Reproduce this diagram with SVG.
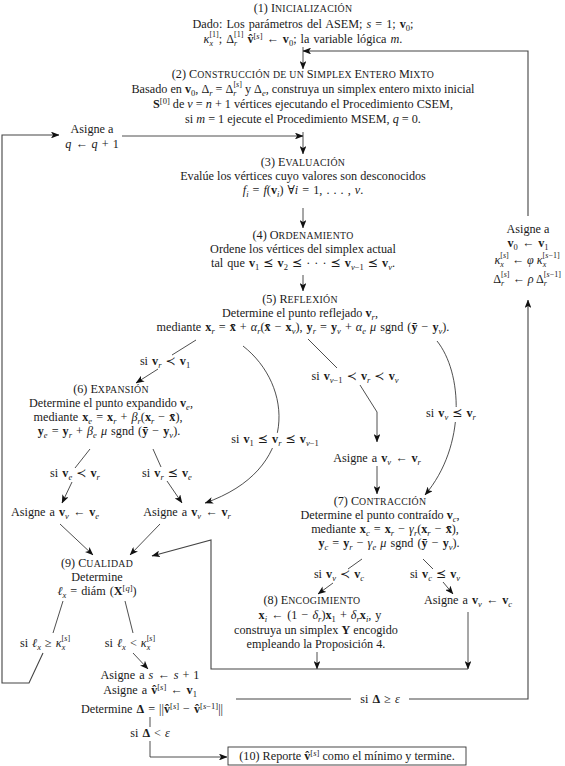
<svg xmlns="http://www.w3.org/2000/svg" width="565" height="766" viewBox="0 0 565 766">
<style>
.t{font-family:"Liberation Serif","DejaVu Serif","DejaVu Sans",serif;font-size:12.2px;fill:#1a1a1a;text-anchor:middle}
.m{word-spacing:1px}
.sm{font-size:9.8px;letter-spacing:0.3px}
.i{font-style:italic}
.b{font-weight:bold}
.sb{font-size:8.5px;baseline-shift:-2.5px}
.sp{font-size:8.5px;baseline-shift:4.5px}
.sb2{font-size:8px;baseline-shift:-3px}
.sp2{font-size:8px;baseline-shift:6px}
.ln{fill:none;stroke:#222;stroke-width:0.8}
.lp{fill:none;stroke:#444;stroke-width:1.1}
</style>
<defs>
<marker id="ah" viewBox="0 0 10 8" refX="9.5" refY="4" markerWidth="8.5" markerHeight="6.8" orient="auto" markerUnits="userSpaceOnUse"><path d="M0,0 L10,4 L0,8 L2.5,4 z" fill="#111"/></marker>
</defs>
<rect width="565" height="766" fill="#fff"/>
<g id="connectors">
<path class="lp" d="M528,216 V51 H303" marker-end="url(#ah)"/>
<path class="ln" d="M303,47 V69" marker-end="url(#ah)"/>
<path class="ln" d="M122,136 H303" marker-end="url(#ah)"/>
<path class="ln" d="M303,132 V154" marker-end="url(#ah)"/>
<path class="ln" d="M303,208 V228" marker-end="url(#ah)"/>
<path class="ln" d="M303,275 V291" marker-end="url(#ah)"/>
<path class="ln" d="M196,340 L172,355"/>
<path class="ln" d="M158,369 L136,383" marker-end="url(#ah)"/>
<path class="ln" d="M243,346 C293,385 300,470 205,503" marker-end="url(#ah)"/>
<path class="ln" d="M308,339 L337,368"/>
<path class="ln" d="M360,385 L377,412 V442" marker-end="url(#ah)"/>
<path class="ln" d="M437,341 C462,372 467,445 425,495" marker-end="url(#ah)"/>
<path class="ln" d="M377,466 V494" marker-end="url(#ah)"/>
<path class="ln" d="M90,449 L75,468"/>
<path class="ln" d="M72,482 L62,503" marker-end="url(#ah)"/>
<path class="ln" d="M153,449 L161,467"/>
<path class="ln" d="M167,481 L182,503" marker-end="url(#ah)"/>
<path class="ln" d="M60,524 L93,555" marker-end="url(#ah)"/>
<path class="ln" d="M160,524 L130,555" marker-end="url(#ah)"/>
<path class="ln" d="M362,559 L348,569"/>
<path class="ln" d="M333,583 L318,594" marker-end="url(#ah)"/>
<path class="ln" d="M423,559 L433,569"/>
<path class="ln" d="M443,582 L453,594" marker-end="url(#ah)"/>
<path class="ln" d="M317,652 V669" marker-end="url(#ah)"/>
<path class="ln" d="M468,612 V669" marker-end="url(#ah)"/>
<path class="lp" d="M468,669 H211 V540 L152,556" marker-end="url(#ah)"/>
<path class="ln" d="M63,601 L53,633"/>
<path class="ln" d="M125,601 L133,633"/>
<path class="lp" d="M43,653 L29,683 H2 V135 H59" marker-end="url(#ah)"/>
<path class="ln" d="M133,653 L148,669" marker-end="url(#ah)"/>
<path class="lp" d="M236,699 H528 V300" marker-end="url(#ah)"/>
<path class="ln" d="M150,717 V727"/>
<path class="ln" d="M150,741 V757 H227" marker-end="url(#ah)"/>
<rect x="224" y="433" width="102" height="15" fill="#fff"/>
<rect x="422" y="407" width="59" height="15" fill="#fff"/>
<rect x="351" y="692" width="58" height="14" fill="#fff"/>
<text class="t m" x="165" y="365">si <tspan class="b">v</tspan><tspan class="sb i">r</tspan> ≺ <tspan class="b">v</tspan><tspan class="sb">1</tspan></text>
<text class="t m" x="275" y="443">si <tspan class="b">v</tspan><tspan class="sb">1</tspan> ⪯ <tspan class="b">v</tspan><tspan class="sb i">r</tspan> ⪯ <tspan class="b">v</tspan><tspan class="sb"><tspan class="i">ν</tspan>−1</tspan></text>
<text class="t m" x="355" y="380">si <tspan class="b">v</tspan><tspan class="sb"><tspan class="i">ν</tspan>−1</tspan> ≺ <tspan class="b">v</tspan><tspan class="sb i">r</tspan> ≺ <tspan class="b">v</tspan><tspan class="sb i">ν</tspan></text>
<text class="t m" x="451" y="417">si <tspan class="b">v</tspan><tspan class="sb i">ν</tspan> ⪯ <tspan class="b">v</tspan><tspan class="sb i">r</tspan></text>
<text class="t m" x="75" y="477">si <tspan class="b">v</tspan><tspan class="sb i">e</tspan> ≺ <tspan class="b">v</tspan><tspan class="sb i">r</tspan></text>
<text class="t m" x="167" y="477">si <tspan class="b">v</tspan><tspan class="sb i">r</tspan> ⪯ <tspan class="b">v</tspan><tspan class="sb i">e</tspan></text>
<text class="t m" x="339" y="578">si <tspan class="b">v</tspan><tspan class="sb i">ν</tspan> ≺ <tspan class="b">v</tspan><tspan class="sb i">c</tspan></text>
<text class="t m" x="435" y="578">si <tspan class="b">v</tspan><tspan class="sb i">c</tspan> ⪯ <tspan class="b">v</tspan><tspan class="sb i">ν</tspan></text>
<text class="t m" x="45" y="647">si <tspan class="i">ℓ</tspan><tspan class="sb i">x</tspan> ≥ <tspan class="i">κ</tspan><tspan class="sb2 i">x</tspan><tspan class="sp2" dx="-3.6">[<tspan class="i">s</tspan>]</tspan></text>
<text class="t m" x="130" y="647">si <tspan class="i">ℓ</tspan><tspan class="sb i">x</tspan> &lt; <tspan class="i">κ</tspan><tspan class="sb2 i">x</tspan><tspan class="sp2" dx="-3.6">[<tspan class="i">s</tspan>]</tspan></text>
<text class="t m" x="150" y="737">si <tspan class="b">Δ</tspan> &lt; <tspan class="i">ε</tspan></text>
<text class="t m" x="380" y="703">si <tspan class="b">Δ</tspan> ≥ <tspan class="i">ε</tspan></text>
</g>
<g id="n1">
<text class="t" x="303" y="12">(1) I<tspan class="sm">NICIALIZACIÓN</tspan></text>
<text class="t m" x="303" y="28">Dado: Los parámetros del ASEM; <tspan class="i">s</tspan> = 1; <tspan class="b">v</tspan><tspan class="sb">0</tspan>;</text>
<text class="t m" x="303" y="43"><tspan class="i">κ</tspan><tspan class="sb2 i">x</tspan><tspan class="sp2" dx="-3.6">[1]</tspan>; Δ<tspan class="sb2 i">r</tspan><tspan class="sp2" dx="-3.1">[1]</tspan> <tspan class="b">v̂</tspan><tspan class="sp">[<tspan class="i">s</tspan>]</tspan> ← <tspan class="b">v</tspan><tspan class="sb">0</tspan>; la variable lógica <tspan class="i">m</tspan>.</text>
</g>
<g id="n2">
<text class="t" x="303" y="78">(2) C<tspan class="sm">ONSTRUCCIÓN DE UN </tspan>S<tspan class="sm">IMPLEX </tspan>E<tspan class="sm">NTERO </tspan>M<tspan class="sm">IXTO</tspan></text>
<text class="t" x="303" y="93">Basado en <tspan class="b">v</tspan><tspan class="sb">0</tspan>, Δ<tspan class="sb i">r</tspan> = Δ<tspan class="sb2 i">r</tspan><tspan class="sp2" dx="-3.1">[<tspan class="i">s</tspan>]</tspan> y Δ<tspan class="sb i">e</tspan>, construya un simplex entero mixto inicial</text>
<text class="t" x="303" y="108"><tspan class="b">S</tspan><tspan class="sp">[0]</tspan> de <tspan class="i">ν</tspan> = <tspan class="i">n</tspan> + 1 vértices ejecutando el Procedimiento CSEM,</text>
<text class="t" x="303" y="123">si <tspan class="i">m</tspan> = 1 ejecute el Procedimiento MSEM, <tspan class="i">q</tspan> = 0.</text>
</g>
<g id="nq">
<text class="t" x="92" y="133">Asigne a</text>
<text class="t m" x="92" y="148"><tspan class="i">q</tspan> ← <tspan class="i">q</tspan> + 1</text>
</g>
<g id="n3">
<text class="t" x="303" y="166">(3) E<tspan class="sm">VALUACIÓN</tspan></text>
<text class="t" x="303" y="180">Evalúe los vértices cuyo valores son desconocidos</text>
<text class="t m" x="303" y="194"><tspan class="i">f</tspan><tspan class="sb i">i</tspan> = <tspan class="i">f</tspan>(<tspan class="b">v</tspan><tspan class="sb i">i</tspan>) ∀<tspan class="i">i</tspan> = 1, . . . , <tspan class="i">ν</tspan>.</text>
</g>
<g id="n4">
<text class="t" x="303" y="239">(4) O<tspan class="sm">RDENAMIENTO</tspan></text>
<text class="t" x="303" y="253">Ordene los vértices del simplex actual</text>
<text class="t m" x="303" y="267">tal que <tspan class="b">v</tspan><tspan class="sb">1</tspan> ⪯ <tspan class="b">v</tspan><tspan class="sb">2</tspan> ⪯ · · · ⪯ <tspan class="b">v</tspan><tspan class="sb"><tspan class="i">ν</tspan>−1</tspan> ⪯ <tspan class="b">v</tspan><tspan class="sb i">ν</tspan>.</text>
</g>
<g id="n5">
<text class="t" x="300" y="303">(5) R<tspan class="sm">EFLEXIÓN</tspan></text>
<text class="t" x="300" y="317">Determine el punto reflejado <tspan class="b">v</tspan><tspan class="sb i">r</tspan>,</text>
<text class="t m" x="303" y="331">mediante <tspan class="b">x</tspan><tspan class="sb i">r</tspan> = <tspan class="b">x̄</tspan> + <tspan class="i">α</tspan><tspan class="sb i">r</tspan>(<tspan class="b">x̄</tspan> − <tspan class="b">x</tspan><tspan class="sb i">ν</tspan>), <tspan class="b">y</tspan><tspan class="sb i">r</tspan> = <tspan class="b">y</tspan><tspan class="sb i">ν</tspan> + <tspan class="i">α</tspan><tspan class="sb i">e</tspan> <tspan class="i">μ</tspan> sgnd (<tspan class="b">ȳ</tspan> − <tspan class="b">y</tspan><tspan class="sb i">ν</tspan>).</text>
</g>
<g id="nv0">
<text class="t" x="528" y="233">Asigne a</text>
<text class="t m" x="528" y="247"><tspan class="b">v</tspan><tspan class="sb">0</tspan> ← <tspan class="b">v</tspan><tspan class="sb">1</tspan></text>
<text class="t" x="527" y="264"><tspan class="i">κ</tspan><tspan class="sb2 i">x</tspan><tspan class="sp2" dx="-3.6">[<tspan class="i">s</tspan>]</tspan> ← <tspan class="i">φ</tspan> <tspan class="i">κ</tspan><tspan class="sb2 i">x</tspan><tspan class="sp2" dx="-3.6">[<tspan class="i">s</tspan>−1]</tspan></text>
<text class="t" x="527" y="283">Δ<tspan class="sb2 i">r</tspan><tspan class="sp2" dx="-3.1">[<tspan class="i">s</tspan>]</tspan> ← <tspan class="i">ρ</tspan> Δ<tspan class="sb2 i">r</tspan><tspan class="sp2" dx="-3.1">[<tspan class="i">s</tspan>−1]</tspan></text>
</g>
<g id="n6">
<text class="t" x="111" y="393">(6) E<tspan class="sm">XPANSIÓN</tspan></text>
<text class="t" x="111" y="407">Determine el punto expandido <tspan class="b">v</tspan><tspan class="sb i">e</tspan>,</text>
<text class="t m" x="108" y="421">mediante <tspan class="b">x</tspan><tspan class="sb i">e</tspan> = <tspan class="b">x</tspan><tspan class="sb i">r</tspan> + <tspan class="i">β</tspan><tspan class="sb i">r</tspan>(<tspan class="b">x</tspan><tspan class="sb i">r</tspan> − <tspan class="b">x̄</tspan>),</text>
<text class="t m" x="109" y="435"><tspan class="b">y</tspan><tspan class="sb i">e</tspan> = <tspan class="b">y</tspan><tspan class="sb i">r</tspan> + <tspan class="i">β</tspan><tspan class="sb i">e</tspan> <tspan class="i">μ</tspan> sgnd (<tspan class="b">ȳ</tspan> − <tspan class="b">y</tspan><tspan class="sb i">ν</tspan>).</text>
</g>
<g id="nve">
<text class="t m" x="55" y="516">Asigne a <tspan class="b">v</tspan><tspan class="sb i">ν</tspan> ← <tspan class="b">v</tspan><tspan class="sb i">e</tspan></text>
</g>
<g id="nvr1">
<text class="t m" x="187" y="516">Asigne a <tspan class="b">v</tspan><tspan class="sb i">ν</tspan> ← <tspan class="b">v</tspan><tspan class="sb i">r</tspan></text>
</g>
<g id="nvr2">
<text class="t m" x="377" y="462">Asigne a <tspan class="b">v</tspan><tspan class="sb i">ν</tspan> ← <tspan class="b">v</tspan><tspan class="sb i">r</tspan></text>
</g>
<g id="n7">
<text class="t" x="380" y="505">(7) C<tspan class="sm">ONTRACCIÓN</tspan></text>
<text class="t" x="380" y="519">Determine el punto contraído <tspan class="b">v</tspan><tspan class="sb i">c</tspan>,</text>
<text class="t m" x="385" y="533">mediante <tspan class="b">x</tspan><tspan class="sb i">c</tspan> = <tspan class="b">x</tspan><tspan class="sb i">r</tspan> − <tspan class="i">γ</tspan><tspan class="sb i">r</tspan>(<tspan class="b">x</tspan><tspan class="sb i">r</tspan> − <tspan class="b">x̄</tspan>),</text>
<text class="t m" x="389" y="547"><tspan class="b">y</tspan><tspan class="sb i">c</tspan> = <tspan class="b">y</tspan><tspan class="sb i">r</tspan> − <tspan class="i">γ</tspan><tspan class="sb i">e</tspan> <tspan class="i">μ</tspan> sgnd (<tspan class="b">ȳ</tspan> − <tspan class="b">y</tspan><tspan class="sb i">ν</tspan>).</text>
</g>
<g id="n8">
<text class="t" x="312" y="604">(8) E<tspan class="sm">NCOGIMIENTO</tspan></text>
<text class="t m" x="320" y="619"><tspan class="b">x</tspan><tspan class="sb i">i</tspan> ← (1 − <tspan class="i">δ</tspan><tspan class="sb i">r</tspan>)<tspan class="b">x</tspan><tspan class="sb">1</tspan> + <tspan class="i">δ</tspan><tspan class="sb i">r</tspan><tspan class="b">x</tspan><tspan class="sb i">i</tspan>, y</text>
<text class="t" x="316" y="634">construya un simplex <tspan class="b">Y</tspan> encogido</text>
<text class="t" x="316" y="648">empleando la Proposición 4.</text>
</g>
<g id="nvc">
<text class="t m" x="468" y="604">Asigne a <tspan class="b">v</tspan><tspan class="sb i">ν</tspan> ← <tspan class="b">v</tspan><tspan class="sb i">c</tspan></text>
</g>
<g id="n9">
<text class="t" x="97" y="567">(9) C<tspan class="sm">UALIDAD</tspan></text>
<text class="t" x="97" y="581">Determine</text>
<text class="t m" x="97" y="595"><tspan class="i">ℓ</tspan><tspan class="sb i">x</tspan> = diám (<tspan class="b">X</tspan><tspan class="sp">[<tspan class="i">q</tspan>]</tspan>)</text>
</g>
<g id="ns">
<text class="t m" x="150" y="679">Asigne a <tspan class="i">s</tspan> ← <tspan class="i">s</tspan> + 1</text>
<text class="t m" x="150" y="694">Asigne a <tspan class="b">v̂</tspan><tspan class="sp">[<tspan class="i">s</tspan>]</tspan> ← <tspan class="b">v</tspan><tspan class="sb">1</tspan></text>
<text class="t m" x="152" y="713">Determine <tspan class="b">Δ</tspan> = ||<tspan class="b">v̂</tspan><tspan class="sp">[<tspan class="i">s</tspan>]</tspan> − <tspan class="b">v̂</tspan><tspan class="sp">[<tspan class="i">s</tspan>−1]</tspan>||</text>
</g>
<g id="n10">
<rect x="228" y="747" width="238" height="18" fill="#fff" stroke="#333" stroke-width="0.9"/>
<text class="t" x="347" y="760">(10) Reporte <tspan class="b">v̂</tspan><tspan class="sp">[<tspan class="i">s</tspan>]</tspan> como el mínimo y termine.</text>
</g>
</svg>
